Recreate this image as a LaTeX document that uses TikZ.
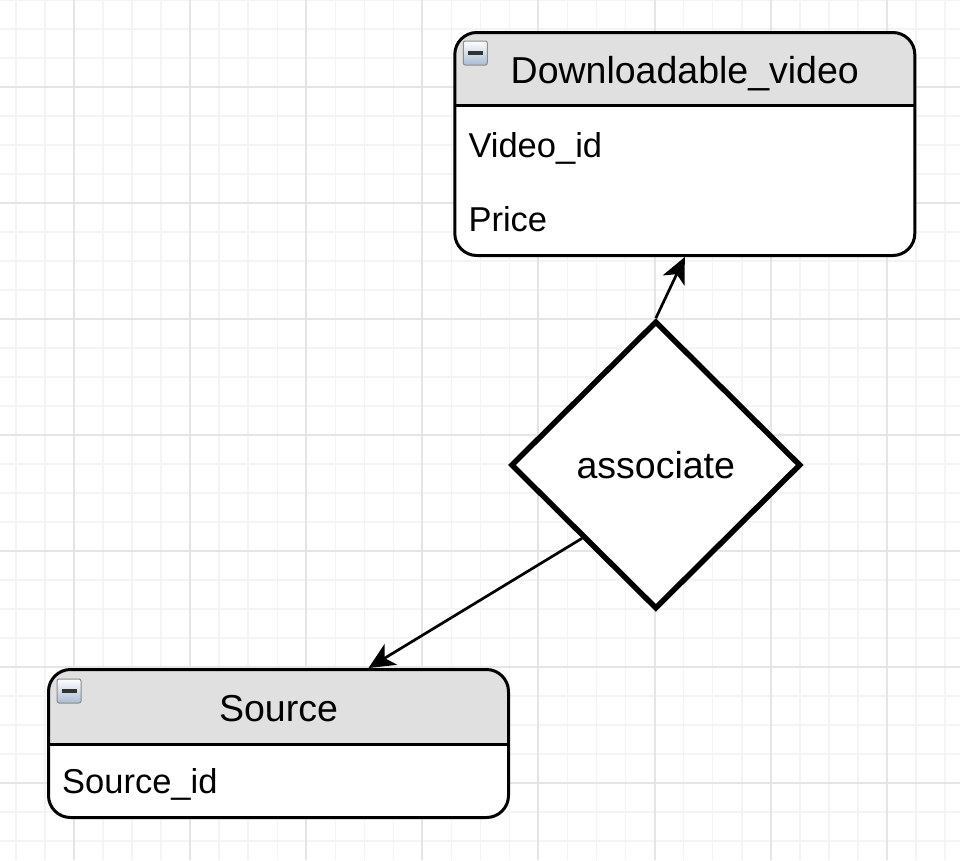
\documentclass[tikz,border=0pt]{standalone}
\usepackage{fontspec}
\setmainfont{Liberation Sans}
\usetikzlibrary{shapes.geometric,arrows.meta}

\definecolor{gridminor}{HTML}{F4F4F4}
\definecolor{gridmajor}{HTML}{E5E5E5}
\definecolor{headgray}{HTML}{E0E0E0}
\definecolor{iconblue}{HTML}{A8BBD2}

\tikzset{
  entity/.style={draw, line width=3pt, fill=white, rounded corners=22pt, inner sep=0pt,
    minimum width=460pt,
    path picture={
      \fill[headgray, sharp corners] (path picture bounding box.north west) rectangle ([yshift=-#1]path picture bounding box.north east);
      \draw[line width=3pt, sharp corners] ([yshift=-#1]path picture bounding box.north west) -- ([yshift=-#1]path picture bounding box.north east);
    }},
  title/.style={font=\fontsize{37.5}{45}\selectfont, anchor=base, inner sep=0pt},
  attr/.style={font=\fontsize{34.5}{41}\selectfont, anchor=base west, inner sep=0pt},
  relation/.style={diamond, draw, line width=5.5pt, fill=white, inner sep=0pt,
    minimum width=290pt, minimum height=288pt, font=\fontsize{37.5}{45}\selectfont},
  icon/.style={draw=black!45, line width=1pt, rounded corners=2pt, top color=white,
    bottom color=iconblue, minimum size=24pt, inner sep=0pt},
  link/.style={line width=2.7pt, -{Stealth[length=26pt, width=24pt, inset=7pt]}}
}

\begin{document}
\begin{tikzpicture}[x=1pt, y=-1pt]
  \useasboundingbox (0,0) rectangle (960,860);
  % grid
  \foreach \i in {0,...,33} \draw[gridminor, line width=1.5pt] ({16+29.03*\i},0) -- ++(0,860);
  \foreach \i in {0,...,30} \draw[gridminor, line width=1.5pt] (0,{-0.2+29*\i}) -- ++(960,0);
  \foreach \i in {0,...,7} \draw[gridmajor, line width=2pt] ({74+116.1*\i},0) -- ++(0,860);
  \foreach \i in {0,...,6} \draw[gridmajor, line width=2pt] (0,{86.8+116*\i}) -- ++(960,0);

  % entities
  \node[entity=72.5pt, minimum height=223pt] (video) at (684.8,144) {};
  \node[entity=74.5pt, minimum height=148pt] (source) at (278.5,743.5) {};
  \node[title] (vtitle) at ([yshift=-52pt]video.north) {Downloadable\_video};
  \node[title] (stitle) at ([yshift=-53pt]source.north) {Source};
  \node[icon] (vicon) at ([xshift=22pt, yshift=-22pt]video.north west) {};
  \node[icon] (sicon) at ([xshift=22pt, yshift=-23pt]source.north west) {};
  \draw[black!80, line width=3.5pt] ([xshift=-7.5pt]vicon.center) -- ([xshift=7.5pt]vicon.center);
  \draw[black!80, line width=3.5pt] ([xshift=-7.5pt]sicon.center) -- ([xshift=7.5pt]sicon.center);
  \node[attr] (vid) at ([xshift=15pt, yshift=-126pt]video.north west) {Video\_id};
  \node[attr] (price) at ([yshift=-74pt]vid.base west) {Price};
  \node[attr] (sid) at ([xshift=15pt, yshift=-125pt]source.north west) {Source\_id};

  % relationship
  \node[relation] (assoc) at (655.8,465) {associate};

  \draw[link] (assoc.north) -- (video.south);
  \draw[link] (assoc.south west) -- ([xshift=90pt]source.north);
\end{tikzpicture}
\end{document}
